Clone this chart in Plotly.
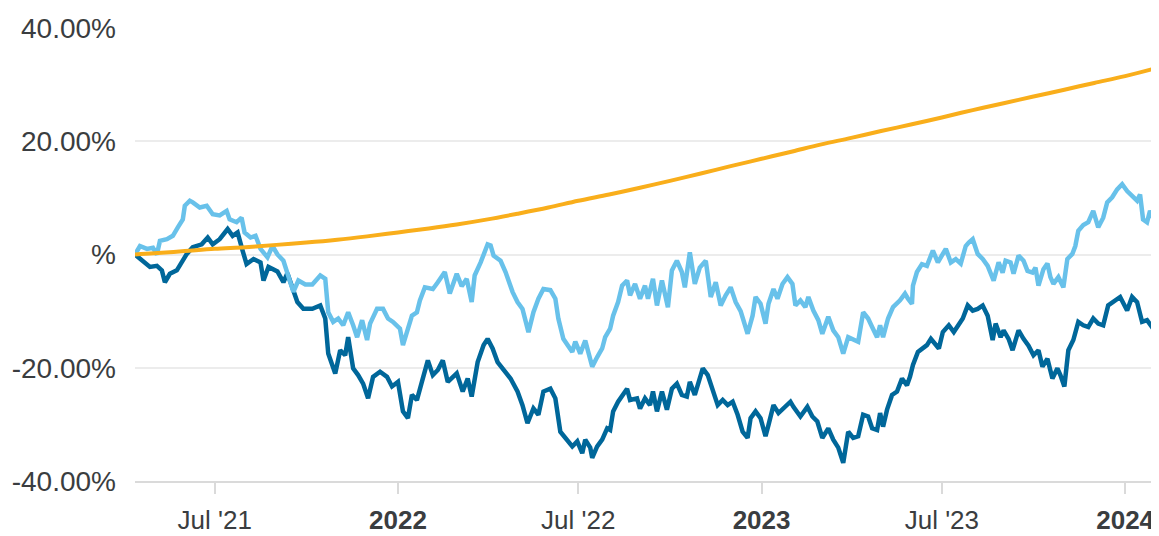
import pandas as pd
import plotly.graph_objects as go

START = pd.Timestamp("2021-04-12")

# darker blue series: (days since start, % return)
dark_days = [0, 5, 8, 15, 22, 27, 30, 35, 42, 47, 52, 58, 67, 73, 78, 85, 93, 98, 103, 108,
             112, 119, 126, 129, 134, 143, 149, 153, 163, 169, 178, 186, 191, 194, 201, 206, 211, 214, 219, 224,
             229, 234, 239, 246, 253, 258, 264, 269, 274, 278, 283, 288, 294, 299, 304, 309, 314, 323, 329, 334,
             338, 344, 350, 354, 359, 364, 370, 377, 384, 389, 394, 400, 405, 410, 417, 422, 427, 434, 439, 444,
             449, 452, 457, 459, 464, 469, 474, 477, 480, 485, 490, 494, 497, 504, 507, 512, 517, 520, 524, 529,
             534, 539, 544, 549, 554, 557, 562, 565, 570, 575, 580, 585, 590, 595, 600, 605, 610, 615, 618, 623,
             628, 633, 636, 641, 646, 651, 658, 661, 668, 675, 680, 685, 690, 696, 701, 706, 711, 716, 721, 726,
             731, 736, 740, 745, 748, 751, 755, 760, 765, 770, 775, 778, 781, 786, 790, 795, 799, 804, 807, 811,
             817, 822, 826, 831, 836, 841, 846, 851, 856, 861, 864, 869, 872, 877, 881, 887, 892, 897, 902, 907,
             911, 916, 921, 926, 929, 933, 937, 942, 947, 952, 957, 962, 967, 972, 977, 982, 989, 996, 1001, 1006,
             1011, 1016, 1021, 1026]
dark_vals = [0.0, -0.8, -1.1, -2.2, -2.0, -2.8, -4.9, -3.4, -2.8, -1.4, 0.1, 1.3, 1.8, 3.0, 1.8, 2.7, 4.5, 3.3, 3.9, 0.7,
             -1.7, -0.8, -1.4, -4.6, -2.2, -3.0, -4.9, -3.3, -8.4, -9.6, -9.6, -9.0, -11.3, -17.5, -21.0, -16.9, -17.8, -14.6, -20.1, -21.3,
             -22.8, -25.4, -21.6, -20.7, -21.6, -23.3, -22.5, -27.7, -28.9, -24.8, -25.7, -22.5, -18.7, -21.3, -20.4, -18.7, -22.5, -21.0, -24.2, -21.9,
             -25.1, -19.0, -16.0, -14.9, -16.6, -19.0, -20.4, -21.9, -24.2, -26.6, -29.8, -27.2, -28.3, -24.2, -23.7, -25.4, -31.3, -32.7, -33.9, -33.0,
             -35.1, -32.7, -34.1, -35.9, -33.9, -32.7, -30.7, -31.0, -27.7, -26.0, -24.8, -23.7, -25.7, -25.4, -27.2, -25.4, -26.6, -24.2, -27.7, -24.2,
             -27.4, -23.7, -22.8, -24.8, -25.1, -22.5, -24.8, -23.1, -20.1, -21.3, -24.2, -26.6, -25.7, -26.6, -26.0, -28.3, -31.3, -32.4, -28.9, -27.7,
             -28.9, -32.1, -30.1, -26.6, -28.0, -27.2, -26.0, -26.9, -28.6, -26.9, -28.6, -29.5, -32.4, -30.7, -32.7, -34.1, -36.8, -31.3, -32.4, -32.1,
             -28.3, -28.6, -30.7, -31.0, -28.0, -30.4, -27.4, -24.8, -24.2, -21.9, -23.1, -21.6, -19.5, -17.2, -16.6, -16.0, -14.9, -16.0, -16.6, -13.7,
             -12.5, -13.7, -12.5, -11.3, -9.0, -9.9, -9.6, -9.0, -10.8, -15.1, -12.2, -14.6, -13.4, -14.9, -16.9, -13.4, -14.9, -16.1, -17.8, -16.9,
             -19.8, -18.4, -21.9, -20.1, -21.3, -23.3, -16.9, -15.1, -11.9, -12.5, -12.8, -11.3, -12.2, -12.5, -9.0, -8.4, -7.5, -9.9, -7.5, -8.4,
             -11.9, -11.6, -12.8, -12.2]

# lighter blue series
light_days = [0, 2, 5, 12, 18, 22, 25, 32, 38, 43, 48, 50, 55, 58, 65, 72, 78, 85, 92, 95,
              102, 107, 110, 116, 121, 126, 133, 138, 143, 149, 154, 159, 164, 171, 178, 186, 191, 194, 199, 204,
              209, 214, 219, 223, 228, 233, 236, 243, 249, 254, 259, 266, 269, 274, 278, 283, 286, 291, 299, 304,
              311, 316, 323, 328, 333, 338, 341, 347, 354, 357, 360, 367, 372, 379, 384, 389, 395, 400, 405, 410,
              417, 422, 425, 430, 435, 439, 442, 447, 452, 455, 459, 464, 469, 472, 477, 480, 485, 489, 494, 497,
              502, 507, 512, 515, 520, 524, 529, 535, 539, 544, 549, 552, 557, 562, 567, 573, 578, 583, 588, 593,
              598, 603, 608, 615, 620, 623, 628, 633, 636, 641, 645, 650, 655, 660, 663, 668, 673, 676, 681, 686,
              690, 696, 701, 706, 711, 716, 721, 726, 731, 736, 740, 745, 748, 751, 756, 761, 768, 773, 776, 780,
              781, 785, 790, 795, 801, 806, 811, 814, 819, 824, 829, 834, 837, 841, 846, 851, 856, 859, 862, 867,
              871, 874, 879, 882, 887, 892, 896, 901, 904, 907, 912, 916, 919, 922, 927, 932, 936, 941, 944, 947,
              952, 957, 962, 967, 972, 976, 981, 986, 991, 996, 1001, 1006, 1009, 1012, 1016, 1019, 1022, 1027]
light_vals = [0.0, 0.7, 1.5, 1.0, 1.2, 0.0, 2.4, 2.7, 3.3, 4.8, 6.2, 8.6, 9.5, 9.2, 8.3, 8.6, 7.1, 6.9, 7.7, 6.2,
              5.7, 6.5, 3.9, 3.0, 3.3, 1.0, -0.5, 1.5, 0.0, -1.1, -3.7, -6.6, -4.6, -5.3, -5.3, -3.7, -4.3, -10.2, -11.9, -11.3,
              -12.5, -10.2, -12.5, -14.6, -11.6, -15.1, -12.2, -9.6, -9.6, -11.3, -11.9, -13.1, -16.0, -13.1, -10.8, -10.2, -8.1, -5.8, -6.1, -4.9,
              -3.1, -6.9, -3.4, -5.6, -4.3, -8.4, -3.7, -1.4, 1.8, 1.6, -0.2, -1.1, -3.1, -6.6, -8.4, -9.6, -13.7, -10.2, -7.8, -6.1,
              -6.3, -7.8, -11.3, -14.9, -16.3, -17.2, -15.4, -17.5, -15.2, -17.2, -19.8, -18.1, -16.6, -14.6, -13.1, -10.8, -8.4, -5.5, -4.6, -7.2,
              -5.2, -7.8, -5.5, -7.8, -4.3, -9.0, -4.6, -9.3, -2.8, -1.1, -3.1, -5.8, 0.4, -5.2, -2.3, -1.1, -7.5, -4.9, -9.0, -7.2,
              -5.8, -8.4, -10.0, -14.0, -10.8, -7.5, -8.7, -12.2, -8.7, -6.1, -7.8, -5.2, -4.0, -5.2, -9.0, -8.1, -9.3, -7.5, -9.9, -11.6,
              -14.0, -11.0, -13.4, -14.6, -17.5, -14.6, -14.9, -15.4, -10.2, -11.3, -12.8, -14.6, -12.5, -14.6, -11.3, -9.3, -8.1, -6.9, -7.8, -8.7,
              -5.5, -3.1, -1.7, -2.0, 0.7, -1.4, 0.1, 1.0, -1.4, -0.8, -1.6, 1.5, 2.1, 2.7, 0.1, -0.8, -2.0, -3.4, -4.6, -1.4,
              -3.2, -1.1, -1.4, -3.4, -0.2, -1.1, -2.9, -3.2, -2.3, -5.5, -2.6, -1.6, -4.0, -5.2, -4.0, -5.8, -0.8, 0.1, 1.5, 4.2,
              5.2, 5.7, 7.7, 4.8, 6.5, 9.2, 10.1, 11.5, 12.4, 11.2, 10.4, 9.5, 10.6, 6.2, 5.7, 7.7, 6.5, 7.4]

# smooth benchmark series (monthly)
orange_dates = ["2021-04-12", "2021-05-01", "2021-06-01", "2021-07-01", "2021-08-01", "2021-09-01",
                "2021-10-01", "2021-11-01", "2021-12-01", "2022-01-01", "2022-02-01", "2022-03-01",
                "2022-04-01", "2022-05-01", "2022-06-01", "2022-07-01", "2022-08-01", "2022-09-01",
                "2022-10-01", "2022-11-01", "2022-12-01", "2023-01-01", "2023-02-01", "2023-03-01",
                "2023-04-01", "2023-05-01", "2023-06-01", "2023-07-01", "2023-08-01", "2023-09-01",
                "2023-10-01", "2023-11-01", "2023-12-01", "2024-01-01", "2024-02-03"]
orange_vals = [0.0, 0.2, 0.6, 1.0, 1.3, 1.7, 2.1, 2.6, 3.2, 3.9, 4.6, 5.3,
               6.2, 7.2, 8.3, 9.5, 10.6, 11.8, 13.0, 14.3, 15.6, 16.9, 18.2, 19.4,
               20.6, 21.8, 23.0, 24.2, 25.5, 26.7, 27.9, 29.1, 30.3, 31.5, 33.0]

tick_dates = ["2021-07-01", "2022-01-01", "2022-07-01", "2023-01-01", "2023-07-01", "2024-01-01"]
tick_text = ["Jul '21", "<b>2022</b>", "Jul '22", "<b>2023</b>", "Jul '23", "<b>2024</b>"]
y_ticks = [-40, -20, 0, 20, 40]
y_text = ["-40.00%", "-20.00%", "%", "20.00%", "40.00%"]

dark_x = START + pd.to_timedelta(dark_days, unit="D")
light_x = START + pd.to_timedelta(light_days, unit="D")

fig = go.Figure()
fig.add_trace(go.Scatter(x=dark_x, y=dark_vals, mode="lines",
                         line=dict(color="#00679A", width=4.5)))
fig.add_trace(go.Scatter(x=light_x, y=light_vals, mode="lines",
                         line=dict(color="#68C1EA", width=4.5)))
fig.add_trace(go.Scatter(x=pd.to_datetime(orange_dates), y=orange_vals, mode="lines",
                         line=dict(color="#F9AE1B", width=4, shape="spline")))

# the page body adds an 8px offset, so the figure is 8px smaller on each side
fig.update_layout(
    width=1151, height=528,
    margin=dict(l=127, r=1, t=20, b=53),
    paper_bgcolor="white", plot_bgcolor="white",
    showlegend=False,
    font=dict(family="Liberation Sans, Arial, sans-serif", color="#3a3d40"),
)
fig.update_xaxes(
    range=["2021-04-12", "2024-02-03"],
    tickvals=pd.to_datetime(tick_dates), ticktext=tick_text,
    tickfont=dict(size=26),
    showgrid=False, zeroline=False,
    showline=True, linecolor="#dadada", linewidth=2,
    ticks="outside", ticklen=11, tickwidth=1.5, tickcolor="#dadada",
    ticklabelstandoff=4,
)
fig.update_yaxes(
    range=[-40, 40],
    tickvals=y_ticks, ticktext=y_text,
    tickfont=dict(size=28),
    showgrid=True, gridcolor="#ececec", gridwidth=2,
    zeroline=False, ticks="", ticklabelstandoff=18,
)

fig.write_html("out.html")
